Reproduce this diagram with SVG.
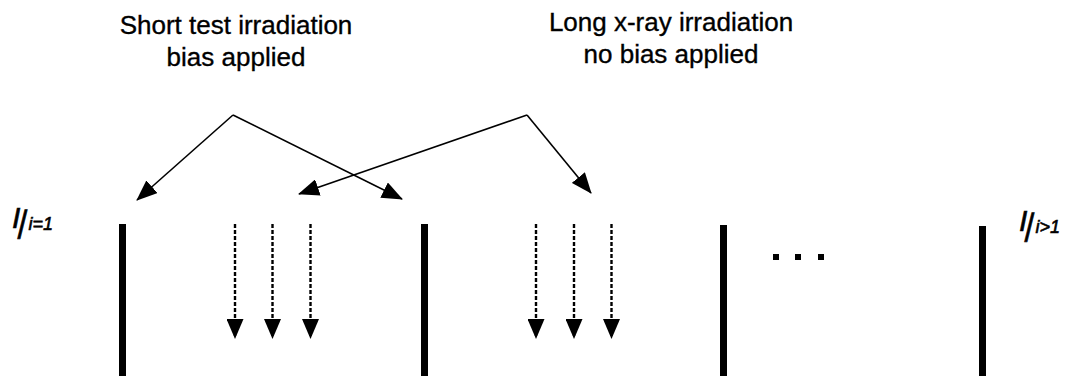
<svg xmlns="http://www.w3.org/2000/svg" width="1075" height="376" viewBox="0 0 1075 376">
  <defs>
    <marker id="head" viewBox="0 0 21 17" refX="20" refY="8.5" markerWidth="21" markerHeight="17" markerUnits="userSpaceOnUse" orient="auto">
      <path d="M0,0 L21,8.5 L0,17 z" fill="#000"/>
    </marker>
    <marker id="dhead" viewBox="0 0 20 17" refX="19" refY="8.5" markerWidth="20" markerHeight="17" markerUnits="userSpaceOnUse" orient="auto">
      <path d="M0,0 L20,8.5 L0,17 z" fill="#000"/>
    </marker>
    <style>
      .title { font-family: "Liberation Sans", Arial, sans-serif; font-size: 26px; fill: #000; stroke: #000; stroke-width: 0.35; text-anchor: middle; }
      .lbl { font-family: "Liberation Sans", Arial, sans-serif; font-style: italic; fill: #000; stroke: #000; stroke-width: 0.6; }
      .bar { fill: #000; }
      .pointer { stroke: #000; stroke-width: 1.6; fill: none; marker-end: url(#head); }
      .ray { stroke: #000; stroke-width: 2.4; stroke-dasharray: 4 2; fill: none; marker-end: url(#dhead); }
      .dot { fill: #000; }
    </style>
  </defs>
  <rect width="1075" height="376" fill="#fff"/>

  <!-- captions -->
  <g id="caption-short">
    <text class="title" x="236" y="34">Short test irradiation</text>
    <text class="title" x="236" y="66">bias applied</text>
  </g>
  <g id="caption-long">
    <text class="title" x="671" y="31">Long x-ray irradiation</text>
    <text class="title" x="671" y="63">no bias applied</text>
  </g>

  <!-- end labels: I evaluated at i=1 and i>1 -->
  <g id="label-start">
    <text class="lbl" x="12" y="228" font-size="30">I</text>
    <text class="lbl" transform="translate(16,232) skewX(-14)" font-size="31">|</text>
    <text class="lbl" x="28.5" y="230" font-size="18">i=1</text>
  </g>
  <g id="label-end">
    <text class="lbl" x="1019" y="231" font-size="30">I</text>
    <text class="lbl" transform="translate(1023,235) skewX(-14)" font-size="31">|</text>
    <text class="lbl" x="1035.5" y="233" font-size="18">i&gt;1</text>
  </g>

  <!-- separating bars -->
  <g id="bar-1"><rect class="bar" x="119" y="224" width="7" height="152"/></g>
  <g id="bar-2"><rect class="bar" x="421" y="224" width="7" height="152"/></g>
  <g id="bar-3"><rect class="bar" x="720" y="225" width="7" height="151"/></g>
  <g id="bar-4"><rect class="bar" x="979" y="226" width="7" height="150"/></g>

  <!-- continuation dots -->
  <g id="ellipsis">
    <rect class="dot" x="773" y="254" width="6" height="6"/>
    <rect class="dot" x="795" y="254" width="6" height="6"/>
    <rect class="dot" x="818" y="254" width="6" height="6"/>
  </g>

  <!-- connectors -->
  <g id="connectors">
    <path class="pointer" d="M233,115 L137,200"/>
    <path class="pointer" d="M233,115 L402,199"/>
    <path class="pointer" d="M527,115 L299,194"/>
    <path class="pointer" d="M527,115 L591,193"/>

    <path class="ray" d="M235,224 V338"/>
    <path class="ray" d="M272.5,224 V338"/>
    <path class="ray" d="M310.5,224 V338"/>
    <path class="ray" d="M536,224 V338"/>
    <path class="ray" d="M574,224 V338"/>
    <path class="ray" d="M611.5,224 V338"/>
  </g>
</svg>
